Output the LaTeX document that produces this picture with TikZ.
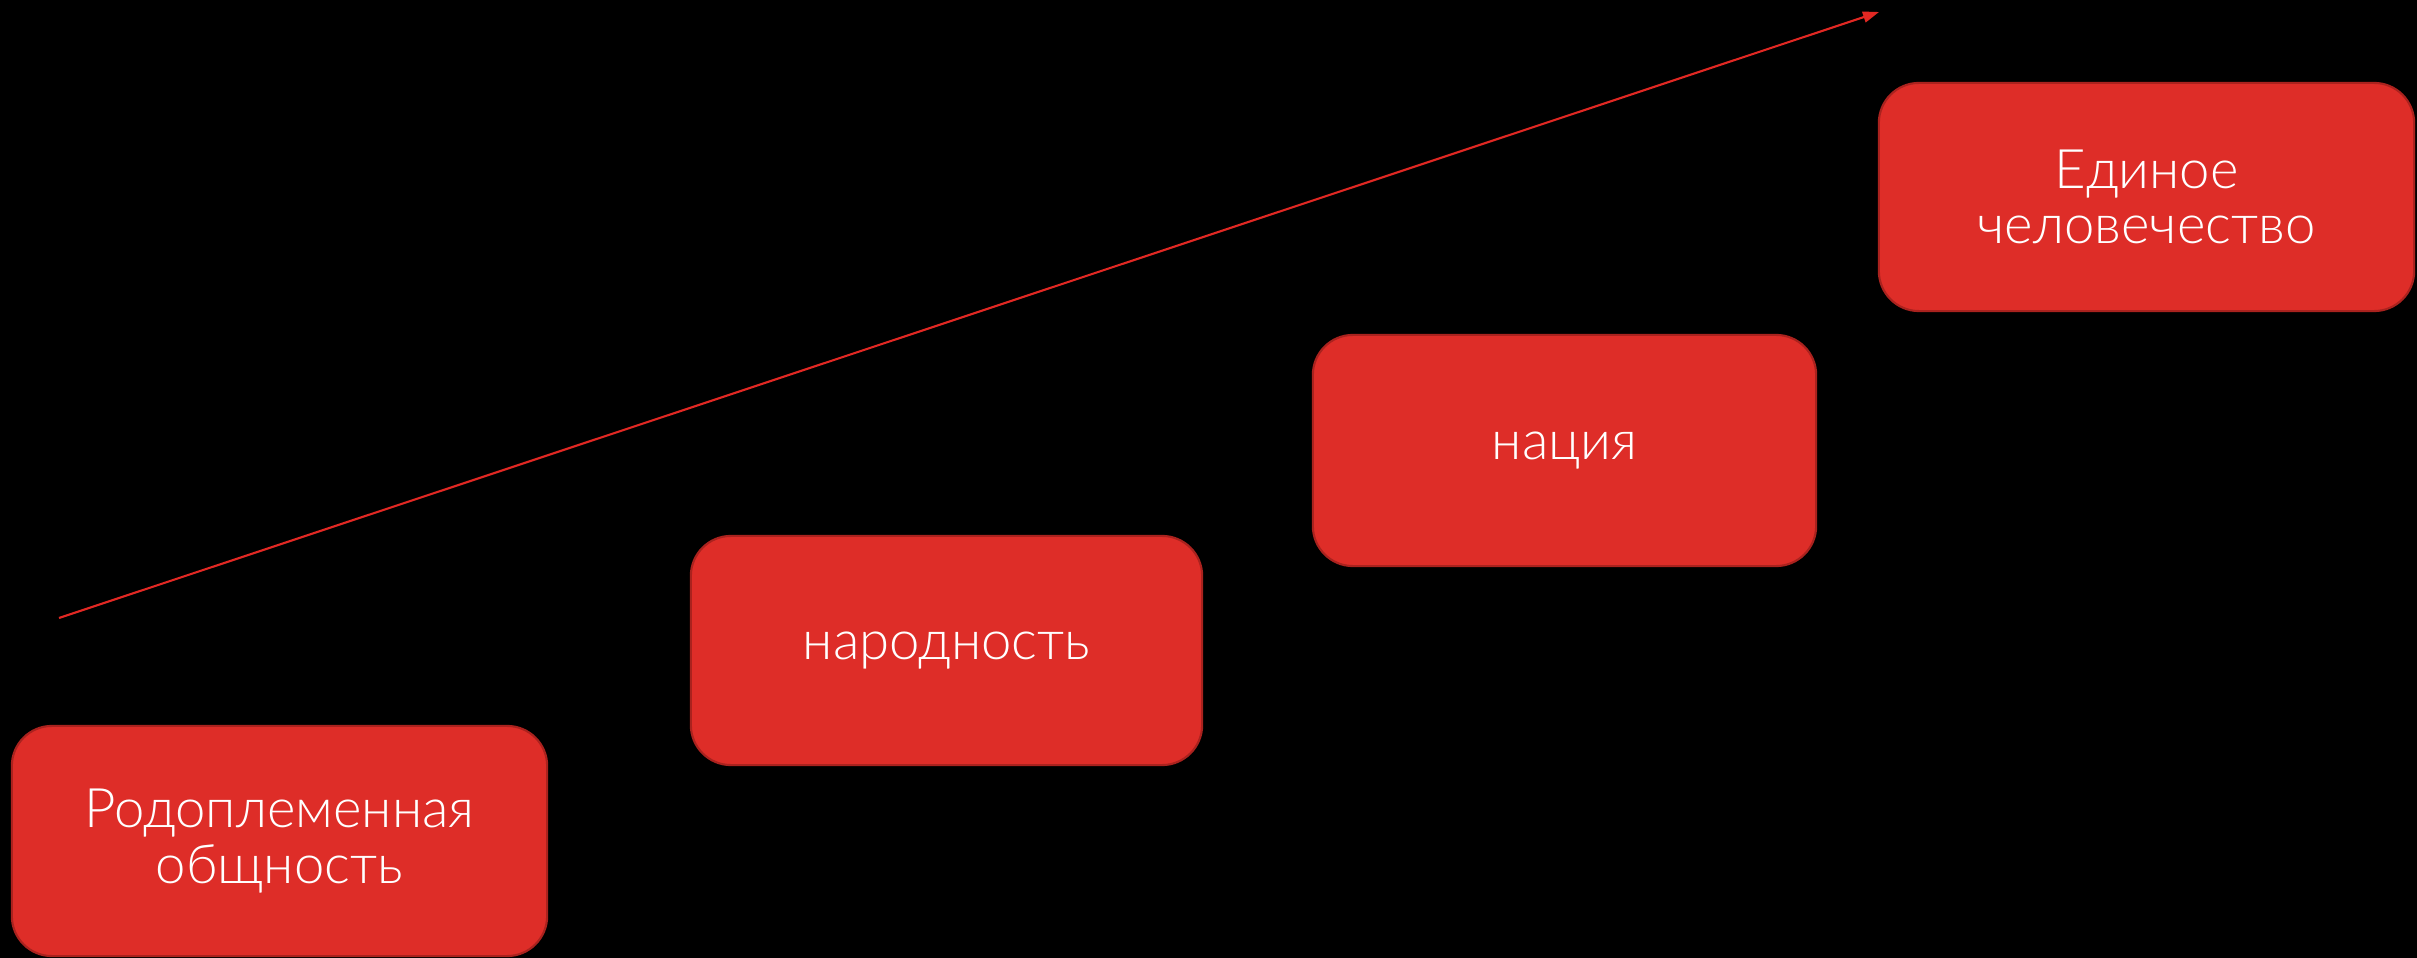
\documentclass[tikz,border=0pt]{standalone}
\usepackage{fontspec}
\setmainfont{Lato Light}
\usetikzlibrary{arrows.meta}
\definecolor{boxfill}{RGB}{222,45,40}
\definecolor{boxline}{RGB}{170,34,30}
\definecolor{arrowred}{RGB}{225,40,35}
\tikzset{
  stagebox/.style={draw=boxline, line width=0.6pt, fill=boxfill, rounded corners=0.4cm,
    text=white, align=center, inner sep=0pt,
    font=\fontsize{15.5}{15.8}\selectfont},
  growth/.style={draw=arrowred, line width=0.6pt, -{Triangle[length=0.16cm,width=0.11cm]}}
}
\begin{document}
\begin{tikzpicture}[x=0.01cm,y=-0.01cm]
\fill[black] (0,0) rectangle (2417,958);
\useasboundingbox (0,0) rectangle (2417,958);
\node[stagebox, minimum width=5.35cm, minimum height=2.30cm] (n1) at (279.5,841) {Родоплеменная\\общность};
\node[stagebox, minimum width=5.11cm, minimum height=2.29cm] (n2) at (946.5,650.5) {народность};
\node[stagebox, minimum width=5.03cm, minimum height=2.31cm] (n3) at (1564.5,450.5) {нация};
\node[stagebox, minimum width=5.35cm, minimum height=2.28cm] (n4) at (2146.5,197) {Единое\\человечество};
\coordinate (s) at (59,618);
\coordinate (e) at (1879,12);
\draw[growth] (s) -- (e);
\end{tikzpicture}
\end{document}
